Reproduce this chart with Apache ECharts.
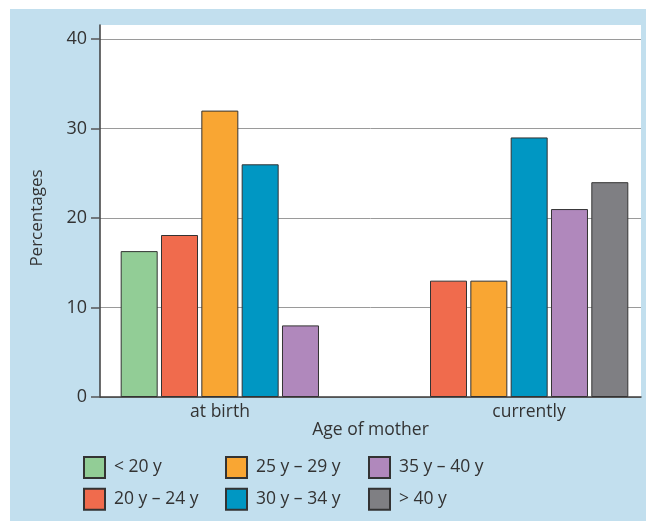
<!DOCTYPE html>
<html><head><meta charset="utf-8">
<script src="https://cdn.jsdelivr.net/npm/echarts@6/dist/echarts.min.js"></script>
<style>
html,body{margin:0;padding:0;background:#fff;}
#frame{position:absolute;left:10px;top:9px;width:636px;height:512px;background:#c2dfee;}
#chart{position:absolute;left:0;top:0;width:655px;height:526px;}
</style></head><body>
<div id="frame"></div><div id="chart"></div>
<script>
const categories = ['at birth', 'currently'];
const seriesNames = ['< 20 y', '20 y – 24 y', '25 y – 29 y', '30 y – 34 y', '35 y – 40 y', '> 40 y'];
const under20 = [16.3, null];
const age20to24 = [18.1, 13];
const age25to29 = [32, 13];
const age30to34 = [26, 29];
const age35to40 = [8, 21];
const over40 = [null, 24];
const yMin = 0, yMax = 40, yStep = 10;
const xAxisTitle = 'Age of mother';
const yAxisTitle = 'Percentages';

const seriesValues = [under20, age20to24, age25to29, age30to34, age35to40, over40];
const colors = ['#92cd96', '#f06b4d', '#f9a633', '#0097c3', '#b088bc', '#7f7f83'];
const FONT = 'Open Sans';
const TXT = '#333';

const chart = echarts.init(document.getElementById('chart'));
const legendBase = {
  orient: 'vertical', top: 456, padding: 0, itemWidth: 21, itemHeight: 21, itemGap: 8.7,
  icon: 'rect', textStyle: { fontSize: 17.5, color: TXT, fontFamily: FONT, padding: [0, 0, 0, 4] }
};
chart.setOption({
  animation: false,
  grid: [
    { left: 100, right: 14, top: 25, bottom: 129, show: true, backgroundColor: '#fff', borderWidth: 0 },
    { left: 100, right: 14, top: 39, bottom: 129 },
    { left: 105.5, right: 11.5, top: 39, bottom: 129 }
  ],
  xAxis: [
    { gridIndex: 0, type: 'value', min: 0, max: 1, position: 'bottom',
      axisLine: { show: true, onZero: false, lineStyle: { color: '#3c3c3c', width: 1.5 } },
      axisTick: { show: false }, axisLabel: { show: false }, splitLine: { show: false },
      name: xAxisTitle, nameLocation: 'middle', nameGap: 24,
      nameTextStyle: { fontSize: 17.5, color: TXT, fontFamily: FONT } },
    { gridIndex: 1, type: 'value', show: false },
    { gridIndex: 2, type: 'category',
      data: [
        { value: categories[0], textStyle: { padding: [0, 40, 0, 0] } },
        { value: categories[1], textStyle: { padding: [0, 0, 0, 40] } }
      ],
      axisLine: { show: false }, axisTick: { show: false },
      axisLabel: { margin: 6, fontSize: 17.5, color: TXT, fontFamily: FONT } }
  ],
  yAxis: [
    { gridIndex: 0, type: 'value', min: 0, max: 1, position: 'left',
      axisLine: { show: true, onZero: false, lineStyle: { color: '#3c3c3c', width: 1.5 } },
      axisTick: { show: false }, axisLabel: { show: false }, splitLine: { show: false } },
    { gridIndex: 1, type: 'value', min: yMin, max: yMax, interval: yStep,
      axisLine: { show: false },
      axisTick: { show: true, length: 9, lineStyle: { color: '#555', width: 1.5 } },
      axisLabel: { margin: 13, fontSize: 18, color: TXT, fontFamily: FONT },
      splitLine: { show: true, lineStyle: { color: '#9a9a9a', width: 1 } },
      name: yAxisTitle, nameLocation: 'middle', nameGap: 54,
      nameTextStyle: { fontSize: 17, color: TXT, fontFamily: FONT } },
    { gridIndex: 2, type: 'value', min: yMin, max: yMax, show: false }
  ],
  legend: [
    Object.assign({}, legendBase, { left: 83, data: [seriesNames[0], seriesNames[1]] }),
    Object.assign({}, legendBase, { left: 225, data: [seriesNames[2], seriesNames[3]] }),
    Object.assign({}, legendBase, { left: 368, data: [seriesNames[4], seriesNames[5]] })
  ],
  series: seriesNames.map((name, i) => ({
    name, type: 'bar', xAxisIndex: 2, yAxisIndex: 2,
    data: seriesValues[i], barWidth: 37, barGap: '9%',
    itemStyle: { color: colors[i], borderColor: '#333', borderWidth: 1 }
  }))
});
</script></body></html>
